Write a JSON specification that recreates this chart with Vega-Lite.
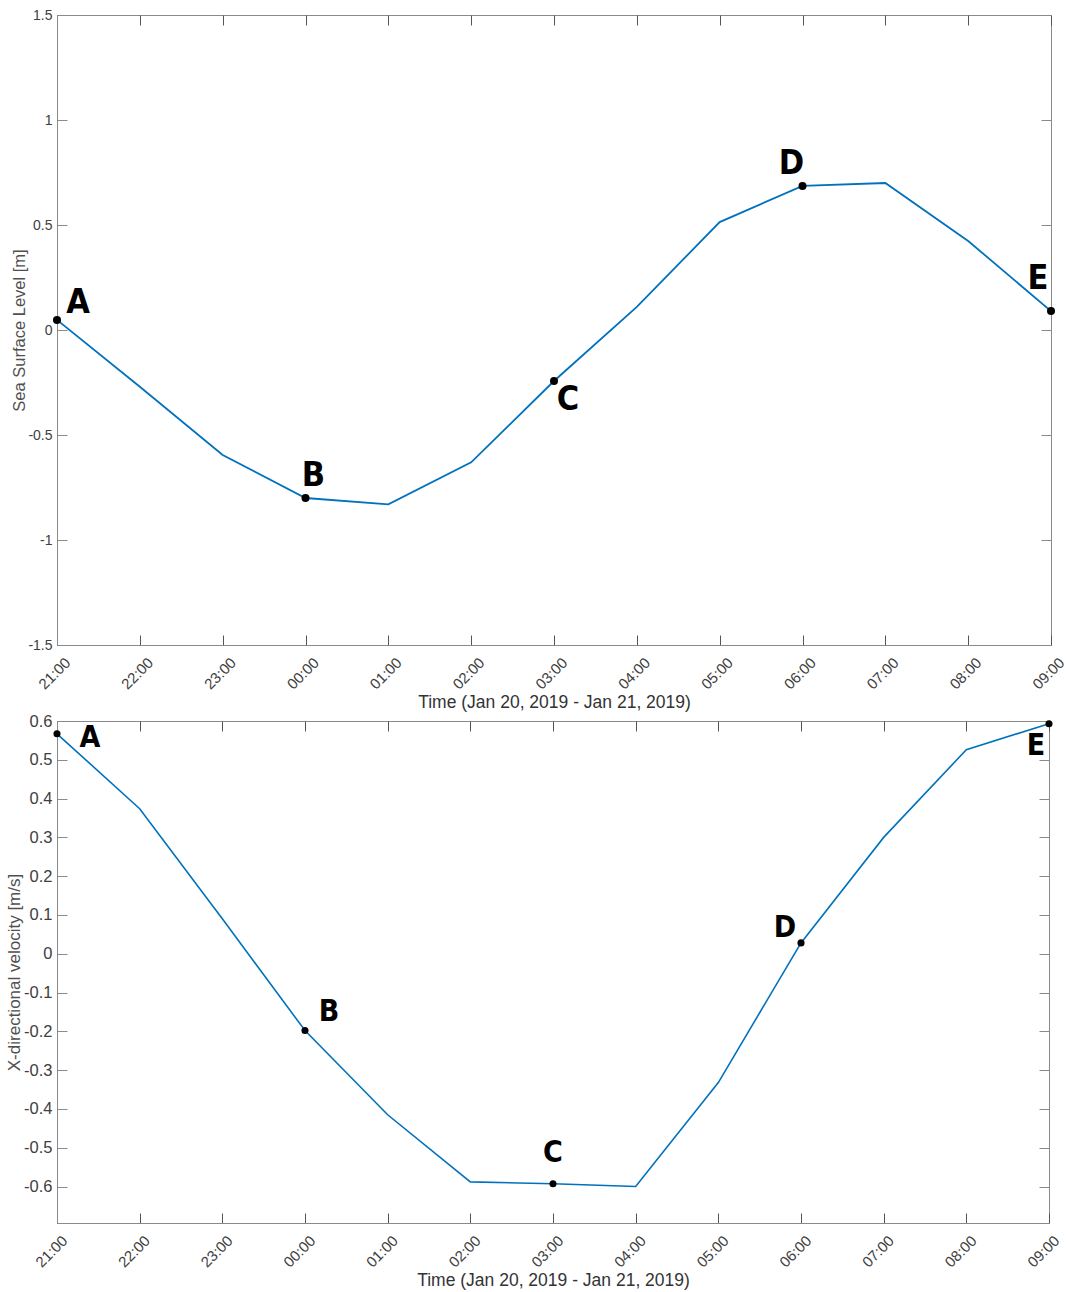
{
  "$schema": "https://vega.github.io/schema/vega-lite/v6.json",
  "padding": {"left": 5, "top": 7, "right": 0, "bottom": 0},
  "spacing": 0,
  "config": {
    "view": {"stroke": "#8a8a8a", "strokeWidth": 1},
    "axis": {
      "domainColor": "#8a8a8a",
      "tickColor": "#555555",
      "tickSize": -10,
      "grid": false,
      "labelFont": "Liberation Sans",
      "titleFont": "Liberation Sans",
      "labelColor": "#404040",
      "titleColor": "#404040",
      "titleFontWeight": "normal"
    },
    "axisY": {"tickColor": "#8a8a8a"},
    "text": {"font": "DejaVu Sans Condensed", "fontWeight": "bold", "color": "black"}
  },
  "vconcat": [
    {
      "width": 994,
      "height": 630,
      "data": {
        "values": [
          {"time": "2019-01-20T21:00:00", "level": 0.048, "label": "A"},
          {"time": "2019-01-20T22:00:00", "level": -0.27, "label": ""},
          {"time": "2019-01-20T23:00:00", "level": -0.595, "label": ""},
          {"time": "2019-01-21T00:00:00", "level": -0.80, "label": "B"},
          {"time": "2019-01-21T01:00:00", "level": -0.83, "label": ""},
          {"time": "2019-01-21T02:00:00", "level": -0.63, "label": ""},
          {"time": "2019-01-21T03:00:00", "level": -0.243, "label": "C"},
          {"time": "2019-01-21T04:00:00", "level": 0.11, "label": ""},
          {"time": "2019-01-21T05:00:00", "level": 0.514, "label": ""},
          {"time": "2019-01-21T06:00:00", "level": 0.686, "label": "D"},
          {"time": "2019-01-21T07:00:00", "level": 0.70, "label": ""},
          {"time": "2019-01-21T08:00:00", "level": 0.424, "label": ""},
          {"time": "2019-01-21T09:00:00", "level": 0.09, "label": "E"}
        ]
      },
      "encoding": {
        "x": {"field": "time", "type": "temporal", "axis": null},
        "y": {
          "field": "level", "type": "quantitative",
          "scale": {"domain": [-1.5, 1.5], "nice": false, "zero": false},
          "axis": null
        }
      },
      "layer": [
        {
          "mark": {"type": "line", "color": "#0072BD", "strokeWidth": 1.8},
          "encoding": {
            "x": {
              "field": "time", "type": "temporal",
              "axis": {
                "title": "Time (Jan 20, 2019 - Jan 21, 2019)",
                "titleFontSize": 17.5, "titleColor": "#333333", "titlePadding": 2,
                "format": "%H:%M", "tickCount": 12,
                "labelAngle": -45, "labelAlign": "center", "labelBaseline": "middle",
                "labelFontSize": 15, "labelPadding": 38, "labelOffset": -3
              }
            },
            "y": {
              "field": "level", "type": "quantitative",
              "axis": {
                "title": "Sea Surface Level [m]", "titleFontSize": 16.5, "titleColor": "#505050", "titlePadding": 0,
                "values": [-1.5, -1, -0.5, 0, 0.5, 1, 1.5],
                "labelExpr": "datum.value < 0 ? '-' + format(-datum.value, '~g') : format(datum.value, '~g')",
                "labelFontSize": 14, "labelPadding": 15
              }
            }
          }
        },
        {
          "transform": [{"filter": "datum.label != ''"}],
          "mark": {"type": "point", "filled": true, "color": "black", "opacity": 1, "size": 64},
          "encoding": {
            "x": {
              "field": "time", "type": "temporal",
              "axis": {"orient": "top", "labels": false, "title": null, "domain": false, "tickCount": 12, "minExtent": 0}
            },
            "y": {
              "field": "level", "type": "quantitative",
              "axis": {"orient": "right", "labels": false, "title": null, "domain": false, "minExtent": 0,
                       "values": [-1.5, -1, -0.5, 0, 0.5, 1, 1.5]}
            }
          }
        },
        {
          "transform": [{"filter": "datum.label == 'A'"}],
          "mark": {"type": "text", "fontSize": 34, "align": "center", "baseline": "middle", "dx": 21, "dy": -17},
          "encoding": {"text": {"field": "label"}}
        },
        {
          "transform": [{"filter": "datum.label == 'B'"}],
          "mark": {"type": "text", "fontSize": 34, "align": "center", "baseline": "middle", "dx": 8, "dy": -22},
          "encoding": {"text": {"field": "label"}}
        },
        {
          "transform": [{"filter": "datum.label == 'C'"}],
          "mark": {"type": "text", "fontSize": 34, "align": "center", "baseline": "middle", "dx": 14, "dy": 19},
          "encoding": {"text": {"field": "label"}}
        },
        {
          "transform": [{"filter": "datum.label == 'D'"}],
          "mark": {"type": "text", "fontSize": 34, "align": "center", "baseline": "middle", "dx": -11, "dy": -22},
          "encoding": {"text": {"field": "label"}}
        },
        {
          "transform": [{"filter": "datum.label == 'E'"}],
          "mark": {"type": "text", "fontSize": 34, "align": "center", "baseline": "middle", "dx": -13, "dy": -32},
          "encoding": {"text": {"field": "label"}}
        }
      ],
      "resolve": {"axis": {"x": "independent", "y": "independent"}}
    },
    {
      "width": 992,
      "height": 502,
      "data": {
        "values": [
          {"time": "2019-01-20T21:00:00", "velocity": 0.567, "label": "A"},
          {"time": "2019-01-20T22:00:00", "velocity": 0.374, "label": ""},
          {"time": "2019-01-20T23:00:00", "velocity": 0.09, "label": ""},
          {"time": "2019-01-21T00:00:00", "velocity": -0.198, "label": "B"},
          {"time": "2019-01-21T01:00:00", "velocity": -0.415, "label": ""},
          {"time": "2019-01-21T02:00:00", "velocity": -0.588, "label": ""},
          {"time": "2019-01-21T03:00:00", "velocity": -0.593, "label": "C"},
          {"time": "2019-01-21T04:00:00", "velocity": -0.60, "label": ""},
          {"time": "2019-01-21T05:00:00", "velocity": -0.332, "label": ""},
          {"time": "2019-01-21T06:00:00", "velocity": 0.028, "label": "D"},
          {"time": "2019-01-21T07:00:00", "velocity": 0.30, "label": ""},
          {"time": "2019-01-21T08:00:00", "velocity": 0.526, "label": ""},
          {"time": "2019-01-21T09:00:00", "velocity": 0.593, "label": "E"}
        ]
      },
      "encoding": {
        "x": {"field": "time", "type": "temporal", "axis": null},
        "y": {
          "field": "velocity", "type": "quantitative",
          "scale": {"domain": [-0.694, 0.6], "nice": false, "zero": false},
          "axis": null
        }
      },
      "layer": [
        {
          "mark": {"type": "line", "color": "#0072BD", "strokeWidth": 1.6},
          "encoding": {
            "x": {
              "field": "time", "type": "temporal",
              "axis": {
                "title": "Time (Jan 20, 2019 - Jan 21, 2019)",
                "titleFontSize": 17.5, "titleColor": "#333333", "titlePadding": 2,
                "format": "%H:%M", "tickCount": 12,
                "labelAngle": -45, "labelAlign": "center", "labelBaseline": "middle",
                "labelFontSize": 15, "labelPadding": 38, "labelOffset": -6
              }
            },
            "y": {
              "field": "velocity", "type": "quantitative",
              "axis": {
                "title": "X-directional velocity [m/s]", "titleFontSize": 17, "titleColor": "#505050", "titlePadding": 0,
                "values": [-0.6, -0.5, -0.4, -0.3, -0.2, -0.1, 0, 0.1, 0.2, 0.3, 0.4, 0.5, 0.6],
                "labelExpr": "datum.value < 0 ? '-' + format(-datum.value, '~g') : format(datum.value, '~g')",
                "labelFontSize": 16.5, "labelPadding": 15
              }
            }
          }
        },
        {
          "transform": [{"filter": "datum.label != ''"}],
          "mark": {"type": "point", "filled": true, "color": "black", "opacity": 1, "size": 50},
          "encoding": {
            "x": {
              "field": "time", "type": "temporal",
              "axis": {"orient": "top", "labels": false, "title": null, "domain": false, "tickCount": 12, "minExtent": 0}
            },
            "y": {
              "field": "velocity", "type": "quantitative",
              "axis": {"orient": "right", "labels": false, "title": null, "domain": false, "minExtent": 0,
                       "values": [-0.6, -0.5, -0.4, -0.3, -0.2, -0.1, 0, 0.1, 0.2, 0.3, 0.4, 0.5, 0.6]}
            }
          }
        },
        {
          "transform": [{"filter": "datum.label == 'A'"}],
          "mark": {"type": "text", "fontSize": 30, "align": "center", "baseline": "middle", "dx": 33, "dy": 4},
          "encoding": {"text": {"field": "label"}}
        },
        {
          "transform": [{"filter": "datum.label == 'B'"}],
          "mark": {"type": "text", "fontSize": 30, "align": "center", "baseline": "middle", "dx": 24, "dy": -19},
          "encoding": {"text": {"field": "label"}}
        },
        {
          "transform": [{"filter": "datum.label == 'C'"}],
          "mark": {"type": "text", "fontSize": 30, "align": "center", "baseline": "middle", "dx": 0, "dy": -31},
          "encoding": {"text": {"field": "label"}}
        },
        {
          "transform": [{"filter": "datum.label == 'D'"}],
          "mark": {"type": "text", "fontSize": 30, "align": "center", "baseline": "middle", "dx": -16, "dy": -15},
          "encoding": {"text": {"field": "label"}}
        },
        {
          "transform": [{"filter": "datum.label == 'E'"}],
          "mark": {"type": "text", "fontSize": 30, "align": "center", "baseline": "middle", "dx": -13, "dy": 22},
          "encoding": {"text": {"field": "label"}}
        }
      ],
      "resolve": {"axis": {"x": "independent", "y": "independent"}}
    }
  ]
}
